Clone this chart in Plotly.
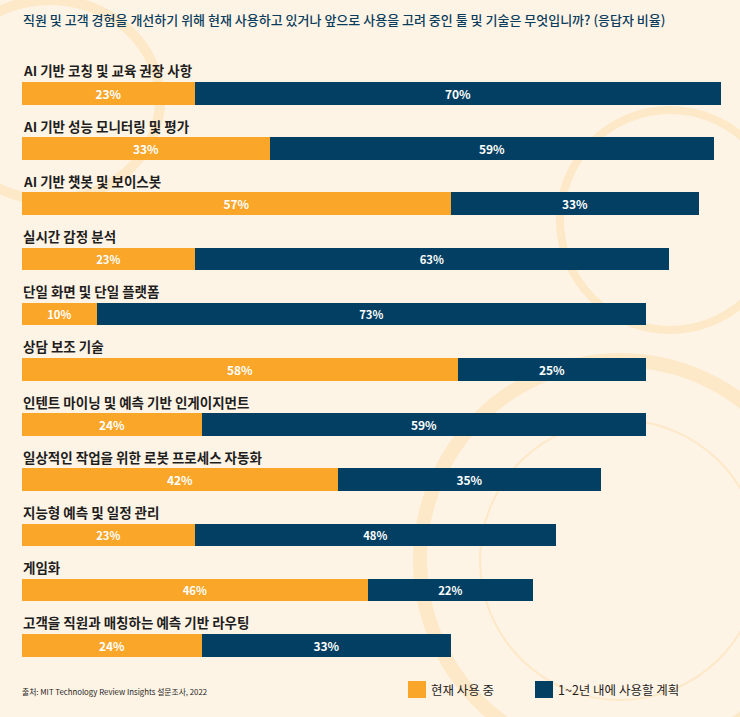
import plotly.graph_objects as go

categories = [
    "AI 기반 코칭 및 교육 권장 사항",
    "AI 기반 성능 모니터링 및 평가",
    "AI 기반 챗봇 및 보이스봇",
    "실시간 감정 분석",
    "단일 화면 및 단일 플랫폼",
    "상담 보조 기술",
    "인텐트 마이닝 및 예측 기반 인게이지먼트",
    "일상적인 작업을 위한 로봇 프로세스 자동화",
    "지능형 예측 및 일정 관리",
    "게임화",
    "고객을 직원과 매칭하는 예측 기반 라우팅",
]
current_use = [23, 33, 57, 23, 10, 58, 24, 42, 23, 46, 24]
planned_use = [70, 59, 33, 63, 73, 25, 59, 35, 48, 22, 33]
series_names = ["현재 사용 중", "1~2년 내에 사용할 계획"]

title_text = "직원 및 고객 경험을 개선하기 위해 현재 사용하고 있거나 앞으로 사용을 고려 중인 툴 및 기술은 무엇입니까? (응답자 비율)"
source_text = "출처: MIT Technology Review Insights 설문조사, 2022"

ORANGE = "#F9A629"
NAVY = "#033F62"
BG = "#FEF4E5"
DECO = "#FDE8C8"
FONT = "Noto Sans CJK KR"

W, H = 740, 717
ML = 22
PW = W - ML


def px_x(p):
    return (p - ML) / PW


def px_y(p):
    return 1 - p / H


fig = go.Figure()
for vals, name, color in [(current_use, series_names[0], ORANGE),
                          (planned_use, series_names[1], NAVY)]:
    fig.add_trace(go.Bar(
        y=categories, x=vals, name=name, orientation="h",
        marker=dict(color=color, line=dict(width=0)),
        text=[f"{v}%" for v in vals], textposition="inside",
        insidetextanchor="middle",
        textfont=dict(color="white", size=12, family=FONT, weight=700),
        width=0.41, hoverinfo="skip", showlegend=False,
    ))

annotations = []
for c in categories:
    annotations.append(dict(
        x=0, y=c, xref="x", yref="y", text=c, showarrow=False,
        xanchor="left", yanchor="middle", yshift=23, xshift=-1,
        font=dict(size=13.5, color="#1E1E1E", family=FONT, weight=700),
    ))
annotations.append(dict(
    x=px_x(22), y=px_y(19), xref="paper", yref="paper", text=title_text,
    showarrow=False, xanchor="left", yanchor="middle", xshift=-1,
    font=dict(size=13, color="#0A3C5E", family=FONT, weight=500),
))
annotations.append(dict(
    x=px_x(21), y=px_y(691), xref="paper", yref="paper", text=source_text,
    showarrow=False, xanchor="left", yanchor="middle", xshift=-1,
    font=dict(size=7.8, color="#1E1E1E", family=FONT),
))

# legend (drawn manually for exact placement)
legend_items = [(408, ORANGE, series_names[0]), (535, NAVY, series_names[1])]
shapes = []
for lx, color, name in legend_items:
    shapes.append(dict(type="rect", xref="paper", yref="paper",
                       x0=px_x(lx), x1=px_x(lx + 18), y0=px_y(698), y1=px_y(681),
                       fillcolor=color, line=dict(width=0)))
    annotations.append(dict(
        x=px_x(lx + 22), y=px_y(689), xref="paper", yref="paper", text=name,
        showarrow=False, xanchor="left", yanchor="middle", xshift=-1,
        font=dict(size=12.5, color="#1E1E1E", family=FONT),
    ))

deco = [
    dict(type="circle", xref="paper", yref="paper", layer="below",
         x0=px_x(420), x1=px_x(820), y0=px_y(760), y1=px_y(360),
         line=dict(color=DECO, width=14)),
    dict(type="circle", xref="paper", yref="paper", layer="below",
         x0=px_x(480), x1=px_x(760), y0=px_y(700), y1=px_y(420),
         line=dict(color=DECO, width=2)),
    dict(type="circle", xref="paper", yref="paper", layer="below",
         x0=px_x(-60), x1=px_x(160), y0=px_y(200), y1=px_y(0),
         line=dict(color=DECO, width=10)),
    dict(type="circle", xref="paper", yref="paper", layer="below",
         x0=px_x(560), x1=px_x(780), y0=px_y(330), y1=px_y(110),
         line=dict(color=DECO, width=8)),
]
shapes = deco + shapes

fig.update_layout(
    width=W, height=H,
    margin=dict(l=ML, r=0, t=0, b=0, autoexpand=False),
    paper_bgcolor=BG, plot_bgcolor="rgba(0,0,0,0)",
    barmode="stack", bargap=0,
    showlegend=False,
    xaxis=dict(range=[0, PW / 7.52], visible=False, fixedrange=True),
    yaxis=dict(range=[(H - 93.3) / 55.2, -93.3 / 55.2], visible=False,
               fixedrange=True, type="category",
               categoryorder="array", categoryarray=categories),
    annotations=annotations,
    shapes=shapes,
    font=dict(family=FONT),
)

fig.write_html(
    "out.html",
    config={"displayModeBar": False},
    post_script="document.body.style.margin='0';document.body.style.overflow='hidden';",
)
